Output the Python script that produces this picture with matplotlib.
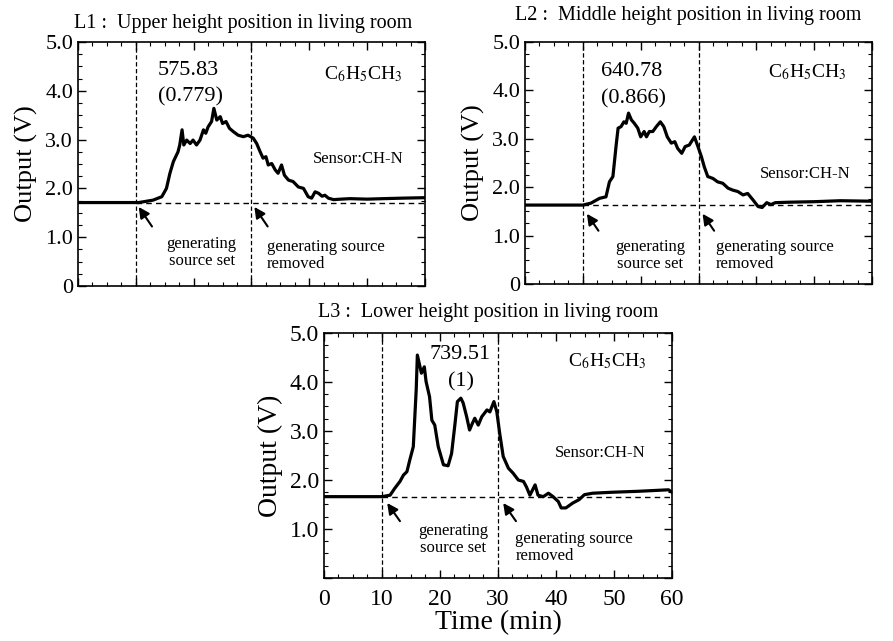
import matplotlib
matplotlib.use("Agg")
import matplotlib.pyplot as plt
from matplotlib.ticker import MultipleLocator

plt.rcParams["font.family"] = ["Liberation Serif", "DejaVu Serif"]
plt.rcParams["mathtext.fontset"] = "stix"

# L1 : upper height
t1 = [0, 10.5, 13.0, 14.5, 15.3, 15.9, 16.5, 17.3, 17.6, 18.0, 18.3, 18.8, 19.4, 19.9, 20.5,
      21.1, 21.7, 22.1, 22.5, 23.1, 23.5, 24.0, 24.6, 25.0, 25.6, 26.2, 26.9, 27.7, 28.6, 29.4,
      30.3, 30.9, 31.5, 32.0, 32.5, 32.9, 33.5, 34.1, 34.6, 35.2, 35.7, 36.4, 37.2, 38.1, 39.0,
      39.8, 40.4, 41.0, 41.6, 42.2, 42.7, 43.3, 44.2, 45.5, 47.0, 50.0, 52.8, 56.0, 60]
v1 = [1.71, 1.71, 1.76, 1.83, 2.00, 2.31, 2.55, 2.75, 2.89, 3.20, 2.89, 2.99, 2.92, 2.99, 2.89,
      2.99, 3.20, 3.13, 3.26, 3.37, 3.64, 3.40, 3.47, 3.33, 3.37, 3.23, 3.16, 3.09, 3.06, 3.09,
      3.03, 2.92, 2.75, 2.62, 2.65, 2.48, 2.51, 2.38, 2.31, 2.48, 2.27, 2.17, 2.14, 2.03, 2.00,
      1.83, 1.80, 1.93, 1.90, 1.84, 1.86, 1.80, 1.77, 1.78, 1.79, 1.78, 1.79, 1.80, 1.81]

# L2 : middle height
t2 = [0, 10.0, 11.4, 12.9, 14.0, 14.6, 15.2, 15.8, 16.1, 16.6, 17.1, 17.5, 17.9, 18.4, 18.9,
      19.5, 20.0, 20.6, 21.0, 21.5, 22.1, 22.7, 23.4, 24.0, 24.6, 25.3, 25.9, 26.4, 27.1, 27.7,
      28.4, 29.3, 29.9, 30.5, 31.0, 31.6, 32.5, 33.3, 34.2, 35.1, 35.9, 36.8, 37.7, 38.5, 39.4,
      40.3, 41.0, 41.8, 42.5, 43.3, 45.9, 50.0, 54.5, 60]
v2 = [1.63, 1.63, 1.67, 1.77, 1.80, 2.11, 2.22, 2.91, 3.22, 3.25, 3.35, 3.32, 3.53, 3.39, 3.32,
      3.22, 3.04, 3.15, 3.04, 3.15, 3.15, 3.25, 3.35, 3.25, 3.04, 2.91, 2.94, 2.80, 2.70, 2.84,
      2.87, 3.04, 2.84, 2.63, 2.42, 2.22, 2.18, 2.11, 2.08, 1.98, 1.94, 1.91, 1.84, 1.87, 1.74,
      1.60, 1.58, 1.68, 1.64, 1.68, 1.69, 1.70, 1.72, 1.71]

# L3 : lower height
t3 = [0, 10.0, 11.4, 12.2, 13.1, 13.7, 14.3, 14.8, 15.4, 15.9, 16.1, 16.8, 17.3, 17.6, 18.2,
      18.6, 19.1, 19.7, 20.6, 21.4, 22.0, 22.6, 23.0, 23.6, 24.0, 24.6, 25.1, 25.6, 26.0, 26.6,
      27.2, 28.1, 28.6, 29.3, 29.8, 30.3, 30.9, 31.8, 32.6, 33.5, 34.4, 34.9, 35.5, 36.4, 36.9,
      37.8, 38.7, 39.5, 40.4, 40.9, 41.7, 42.9, 44.0, 44.9, 46.3, 49.7, 54.3, 59.4, 60]
v3 = [1.66, 1.66, 1.69, 1.83, 1.97, 2.10, 2.17, 2.41, 2.68, 3.84, 4.55, 4.18, 4.31, 4.01, 3.70,
      3.22, 3.12, 2.68, 2.31, 2.29, 2.54, 3.16, 3.60, 3.67, 3.57, 3.29, 3.02, 3.16, 3.26, 3.12,
      3.29, 3.43, 3.39, 3.60, 3.39, 2.95, 2.48, 2.24, 2.14, 2.00, 1.97, 1.86, 1.69, 1.90, 1.69,
      1.66, 1.73, 1.66, 1.56, 1.43, 1.43, 1.53, 1.60, 1.70, 1.73, 1.75, 1.77, 1.80, 1.75]

baselines = [1.71, 1.63, 1.66]
titles = ["L1 :  Upper height position in living room",
          "L2 :  Middle height position in living room",
          "L3 :  Lower height position in living room"]
areas = ["575.83", "640.78", "739.51"]
ratios = ["(0.779)", "(0.866)", "(1)"]
set_time = 10
removed_time = 30
y_ticks = [0, 1, 2, 3, 4, 5]
y_labels = ["0", "1.0", "2.0", "3.0", "4.0", "5.0"]
x_ticks = [0, 10, 20, 30, 40, 50, 60]


def draw_panel(ax, t, v, base, title, area, ratio, lay):
    """
    Draw one sensor output panel

    :param ax: Axes
    :param t: time (min)
    :param v: output (V)
    :param base: baseline output before the source is set
    :param lay: text placement for this panel
    """
    ax.plot(t, v, color="black", lw=2.3, solid_joinstyle="round")
    ax.plot([set_time, 60], [base, base], color="black", lw=1.0, ls=(0, (4, 3)))
    for xx in [set_time, removed_time]:
        ax.axvline(xx, color="black", lw=0.9, ls=(0, (3.5, 2)))

    ax.set_xlim(0, 60)
    ax.set_ylim(0, 5)
    ax.set_yticks(y_ticks)
    ax.set_yticklabels(y_labels)
    ax.xaxis.set_minor_locator(MultipleLocator(2.5))
    ax.yaxis.set_minor_locator(MultipleLocator(0.25))
    ax.tick_params(which="both", direction="in", top=True, right=True, labelsize=16)
    ax.tick_params(which="major", length=6, width=1.0)
    ax.tick_params(which="minor", length=3, width=0.8)
    for s in ax.spines.values():
        s.set_linewidth(1.2)
    ax.set_ylabel("Output (V)", fontsize=19, labelpad=5)

    ax.text(lay["tx"], lay["ty"], title, transform=ax.transAxes, ha="left", va="center", fontsize=14.5)
    ax.text(lay["ax"], lay["ay"], area, ha="center", va="center", fontsize=16)
    ax.text(lay["ax"] + 0.3, lay["ay"] - 0.55, ratio, ha="center", va="center", fontsize=16)
    ax.text(lay["cx"], lay["cy"], r"C$_6$H$_5$CH$_3$", ha="center", va="center", fontsize=14)
    ax.text(lay["sx"], lay["sy"], "Sensor:CH-N", ha="center", va="center", fontsize=12)
    ax.text(lay["gx"], lay["gy"], "generating\nsource set", ha="center", va="center",
            fontsize=12, linespacing=1.1)
    ax.text(lay["rx"], lay["ry"], "generating source\nremoved", ha="left", va="center",
            fontsize=12, linespacing=1.1)

    # arrows pointing at the start / removal points
    for tip in [set_time, removed_time]:
        ax.annotate("", xy=(tip + lay["dx"], lay["tipy"]),
                    xytext=(tip + lay["dx"] + lay["len_x"], lay["tipy"] - lay["len_y"]),
                    arrowprops=dict(arrowstyle="-|>", color="black", lw=1.5,
                                    mutation_scale=16, shrinkA=0, shrinkB=0))


fig = plt.figure(figsize=(8.93, 6.41), dpi=100)
ax1 = fig.add_axes([0.0873, 0.5538, 0.3886, 0.3807])
ax2 = fig.add_axes([0.5879, 0.5570, 0.3886, 0.3775])
ax3 = fig.add_axes([0.3628, 0.0983, 0.3897, 0.3822])

lay1 = dict(tx=-0.01, ty=1.075, ax=19.1, ay=4.42, cx=49.3, cy=4.35, sx=48.5, sy=2.61,
            gx=21.4, gy=0.68, rx=32.6, ry=0.63, dx=0.5, tipy=1.62, len_x=2.3, len_y=0.4)
lay2 = dict(tx=-0.03, ty=1.11, ax=18.5, ay=4.38, cx=48.8, cy=4.38, sx=48.5, sy=2.28,
            gx=21.6, gy=0.59, rx=33.0, ry=0.59, dx=0.7, tipy=1.45, len_x=2.0, len_y=0.35)
lay3 = dict(tx=-0.017, ty=1.085, ax=23.4, ay=4.56, cx=48.9, cy=4.42, sx=47.7, sy=2.55,
            gx=22.3, gy=0.78, rx=33.0, ry=0.63, dx=0.9, tipy=1.53, len_x=2.2, len_y=0.37)

draw_panel(ax1, t1, v1, baselines[0], titles[0], areas[0], ratios[0], lay1)
draw_panel(ax2, t2, v2, baselines[1], titles[1], areas[1], ratios[1], lay2)
draw_panel(ax3, t3, v3, baselines[2], titles[2], areas[2], ratios[2], lay3)

# only the bottom panel carries the time axis
for ax in [ax1, ax2]:
    ax.set_xticks(x_ticks)
    ax.set_xticklabels([])
ax3.set_xticks(x_ticks)
ax3.set_xticklabels([str(x) for x in x_ticks])
ax3.set_yticklabels([""] + y_labels[1:])
ax3.tick_params(axis="both", labelsize=17)
ax3.tick_params(axis="x", pad=8)
ax3.set_xlabel("Time (min)", fontsize=20, labelpad=0)
ax3.set_ylabel("Output (V)", fontsize=20, labelpad=5)

fig.savefig("out.png", dpi=100)
